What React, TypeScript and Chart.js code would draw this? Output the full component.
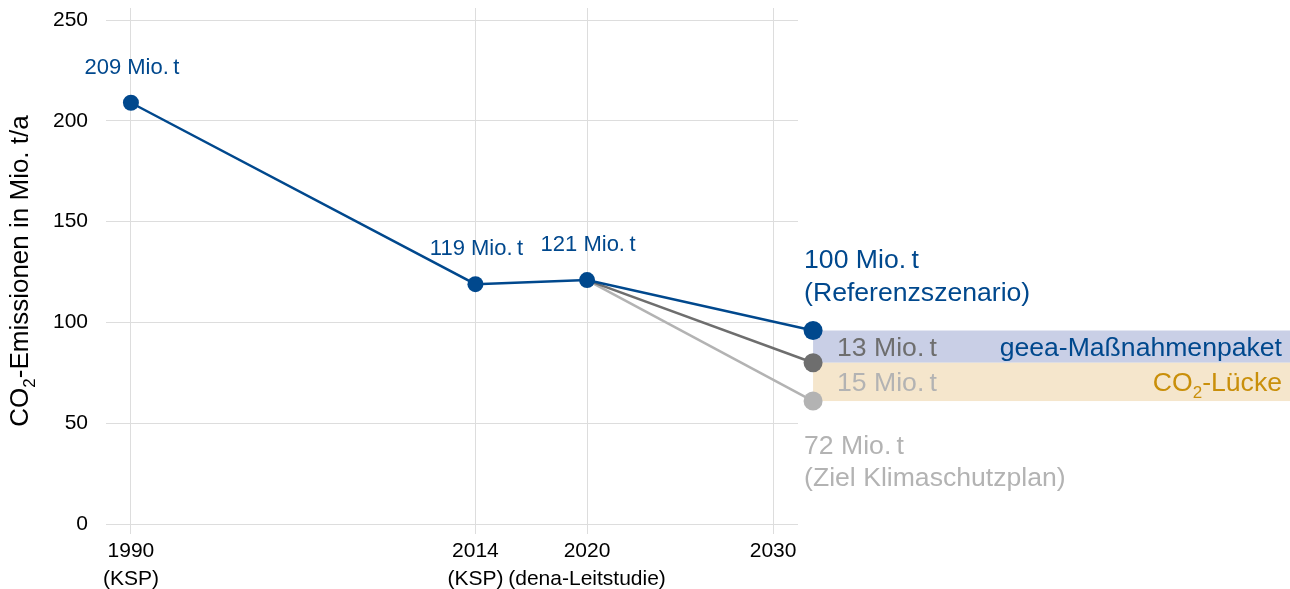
import React, { useEffect, useRef } from "react";
import { Chart, registerables } from "chart.js";

Chart.register(...registerables);

const FONT = "'Liberation Sans', Arial, Helvetica, sans-serif";

// x-axis: tick positions (scale is compressed before 2014), year labels and source labels
const tickPos = [1995.48, 2014, 2020, 2030];
const tickYears = ["1990", "2014", "2020", "2030"];
const tickSources = ["(KSP)", "(KSP)", "(dena-Leitstudie)", ""];
const endPos = 2032.15;

// y-axis
const yTicks = [0, 50, 100, 150, 200, 250];

// series
const refPos = [1995.48, 2014, 2020, endPos];
const refValues = [209, 119, 121, 96];
const geeaPos = [2020, endPos];
const geeaValues = [121, 80];
const targetPos = [2020, endPos];
const targetValues = [121, 61];

// labels
const pointLabels = ["209 Mio.\u2009t", "119 Mio.\u2009t", "121 Mio.\u2009t"];
const refEndLabel = ["100 Mio.\u2009t", "(Referenzszenario)"];
const targetEndLabel = ["72 Mio.\u2009t", "(Ziel Klimaschutzplan)"];
const geeaGapLabel = "13 Mio.\u2009t";
const co2GapLabel = "15 Mio.\u2009t";
const geeaName = "geea-Maßnahmenpaket";

const BLUE = "#00488d";
const DARKGRAY = "#6e6e6e";
const LIGHTGRAY = "#b3b3b3";
const BAND_BLUE = "#c9cfe6";
const BAND_ORANGE = "#f5e6cc";
const ORANGE = "#c98f0a";
const GRID = "#dddddd";

type Part = { t: string; sub?: boolean };

function drawParts(
  ctx: CanvasRenderingContext2D,
  parts: Part[],
  x: number,
  yCenter: number,
  align: "left" | "right" | "center",
  fs: number,
  color: string
) {
  const subFs = Math.round(fs * 0.65);
  let total = 0;
  const widths = parts.map((p) => {
    ctx.font = `${p.sub ? subFs : fs}px ${FONT}`;
    const w = ctx.measureText(p.t).width;
    total += w;
    return w;
  });
  let cx = align === "left" ? x : align === "right" ? x - total : x - total / 2;
  const baseline = yCenter + fs * 0.358;
  ctx.fillStyle = color;
  ctx.textAlign = "left";
  ctx.textBaseline = "alphabetic";
  parts.forEach((p, i) => {
    ctx.font = `${p.sub ? subFs : fs}px ${FONT}`;
    ctx.fillText(p.t, cx, p.sub ? baseline + fs * 0.25 : baseline);
    cx += widths[i];
  });
}

const annotPlugin = {
  id: "annot",
  beforeDatasetsDraw(chart: any) {
    const { ctx, scales } = chart;
    const xs = scales.x;
    const ys = scales.y;
    const xl = xs.getPixelForValue(endPos);
    const y1 = ys.getPixelForValue(refValues[3]);
    const y2 = ys.getPixelForValue(geeaValues[1]);
    const y3 = ys.getPixelForValue(targetValues[1]);
    ctx.save();
    ctx.fillStyle = BAND_BLUE;
    ctx.fillRect(xl, y1, chart.width - xl, y2 - y1);
    ctx.fillStyle = BAND_ORANGE;
    ctx.fillRect(xl, y2, chart.width - xl, y3 - y2);
    ctx.restore();
  },
  afterDatasetsDraw(chart: any) {
    const { ctx, scales } = chart;
    const xs = scales.x;
    const ys = scales.y;
    ctx.save();
    const ex = xs.getPixelForValue(endPos);
    const yRef = ys.getPixelForValue(refValues[3]);
    const yGeea = ys.getPixelForValue(geeaValues[1]);
    const yTarget = ys.getPixelForValue(targetValues[1]);
    // end points (outside the plot area, drawn here)
    const endPts: [number, string][] = [
      [yTarget, LIGHTGRAY],
      [yGeea, DARKGRAY],
      [yRef, BLUE],
    ];
    endPts.forEach(([py, c]) => {
      ctx.beginPath();
      ctx.arc(ex, py, 9.5, 0, Math.PI * 2);
      ctx.fillStyle = c;
      ctx.fill();
    });
    // point labels above first three points
    ctx.textAlign = "center";
    ctx.textBaseline = "middle";
    ctx.font = `22px ${FONT}`;
    ctx.fillStyle = BLUE;
    for (let i = 0; i < 3; i++) {
      const px = xs.getPixelForValue(refPos[i]);
      const py = ys.getPixelForValue(refValues[i]);
      ctx.fillText(pointLabels[i], px + 1, py - 35);
    }
    const fs = 26.6;
    // reference end label
    drawParts(ctx, [{ t: refEndLabel[0] }], ex - 9, yRef - 72, "left", fs, BLUE);
    drawParts(ctx, [{ t: refEndLabel[1] }], ex - 9, yRef - 39, "left", fs, BLUE);
    // target end label
    drawParts(ctx, [{ t: targetEndLabel[0] }], ex - 9, yTarget + 43, "left", fs, LIGHTGRAY);
    drawParts(ctx, [{ t: targetEndLabel[1] }], ex - 9, yTarget + 75, "left", fs, LIGHTGRAY);
    // band labels
    const c1 = (yRef + yGeea) / 2;
    const c2 = (yGeea + yTarget) / 2;
    drawParts(ctx, [{ t: geeaGapLabel }], ex + 24, c1, "left", fs, DARKGRAY);
    drawParts(ctx, [{ t: co2GapLabel }], ex + 24, c2, "left", fs, LIGHTGRAY);
    drawParts(ctx, [{ t: geeaName }], chart.width - 8, c1, "right", fs, BLUE);
    drawParts(ctx, [{ t: "CO" }, { t: "2", sub: true }, { t: "-Lücke" }], chart.width - 8, c2, "right", fs, ORANGE);
    ctx.restore();
  },
  afterDraw(chart: any) {
    const { ctx, chartArea } = chart;
    ctx.save();
    const cy = (chartArea.top + chartArea.bottom) / 2 + 5;
    ctx.translate(19, cy);
    ctx.rotate(-Math.PI / 2);
    drawParts(
      ctx,
      [{ t: "CO" }, { t: "2", sub: true }, { t: "-Emissionen in Mio. t/a" }],
      0,
      0,
      "center",
      26,
      "#000000"
    );
    ctx.restore();
  },
};

export default function App() {
  const ref = useRef<HTMLCanvasElement | null>(null);
  useEffect(() => {
    document.body.style.margin = "0";
    if (!ref.current) return;
    const chart = new Chart(ref.current, {
      type: "line",
      data: {
        datasets: [
          {
            data: refPos.map((x, i) => ({ x, y: refValues[i] })),
            borderColor: BLUE,
            backgroundColor: BLUE,
            pointBackgroundColor: BLUE,
            pointBorderWidth: 0,
            pointRadius: [8, 8, 8, 0],
            borderWidth: 2.5,
            clip: false as any,
          },
          {
            data: geeaPos.map((x, i) => ({ x, y: geeaValues[i] })),
            borderColor: DARKGRAY,
            backgroundColor: DARKGRAY,
            pointBackgroundColor: DARKGRAY,
            pointBorderWidth: 0,
            pointRadius: 0,
            borderWidth: 2.5,
            clip: false as any,
          },
          {
            data: targetPos.map((x, i) => ({ x, y: targetValues[i] })),
            borderColor: LIGHTGRAY,
            backgroundColor: LIGHTGRAY,
            pointBackgroundColor: LIGHTGRAY,
            pointBorderWidth: 0,
            pointRadius: 0,
            borderWidth: 2.5,
            clip: false as any,
          },
        ],
      },
      options: {
        responsive: false,
        animation: false,
        events: [],
        layout: { padding: { top: 8, right: 492, left: 0, bottom: 0 } },
        plugins: { legend: { display: false }, tooltip: { enabled: false } },
        scales: {
          x: {
            type: "linear",
            min: 1994.14,
            max: 2031.34,
            afterBuildTicks: (s: any) => {
              s.ticks = tickPos.map((v) => ({ value: v }));
            },
            afterFit: (s: any) => {
              s.height = 65;
              s.paddingLeft = 0;
              s.paddingRight = 0;
            },
            ticks: {
              autoSkip: false,
              maxRotation: 0,
              color: "#000000",
              padding: 4,
              font: { size: 21, family: FONT, lineHeight: 1.3 },
              callback: (_v: any, i: number) =>
                tickSources[i] ? [tickYears[i], tickSources[i]] : [tickYears[i]],
            },
            grid: { color: GRID, lineWidth: 1, tickLength: 10, drawTicks: true },
            border: { display: false },
          },
          y: {
            type: "linear",
            min: 0,
            max: 256,
            afterBuildTicks: (s: any) => {
              s.ticks = yTicks.map((v) => ({ value: v }));
            },
            afterFit: (s: any) => {
              s.width = 106;
              s.paddingTop = 0;
              s.paddingBottom = 0;
            },
            ticks: {
              color: "#000000",
              padding: 18,
              font: { size: 21, family: FONT },
            },
            grid: { color: GRID, lineWidth: 1, drawTicks: false },
            border: { display: false },
          },
        },
      },
      plugins: [annotPlugin],
    } as any);
    return () => chart.destroy();
  }, []);
  return (
    <div style={{ width: 1290, height: 589 }}>
      <canvas ref={ref} width={1290} height={589} style={{ display: "block" }} />
    </div>
  );
}
